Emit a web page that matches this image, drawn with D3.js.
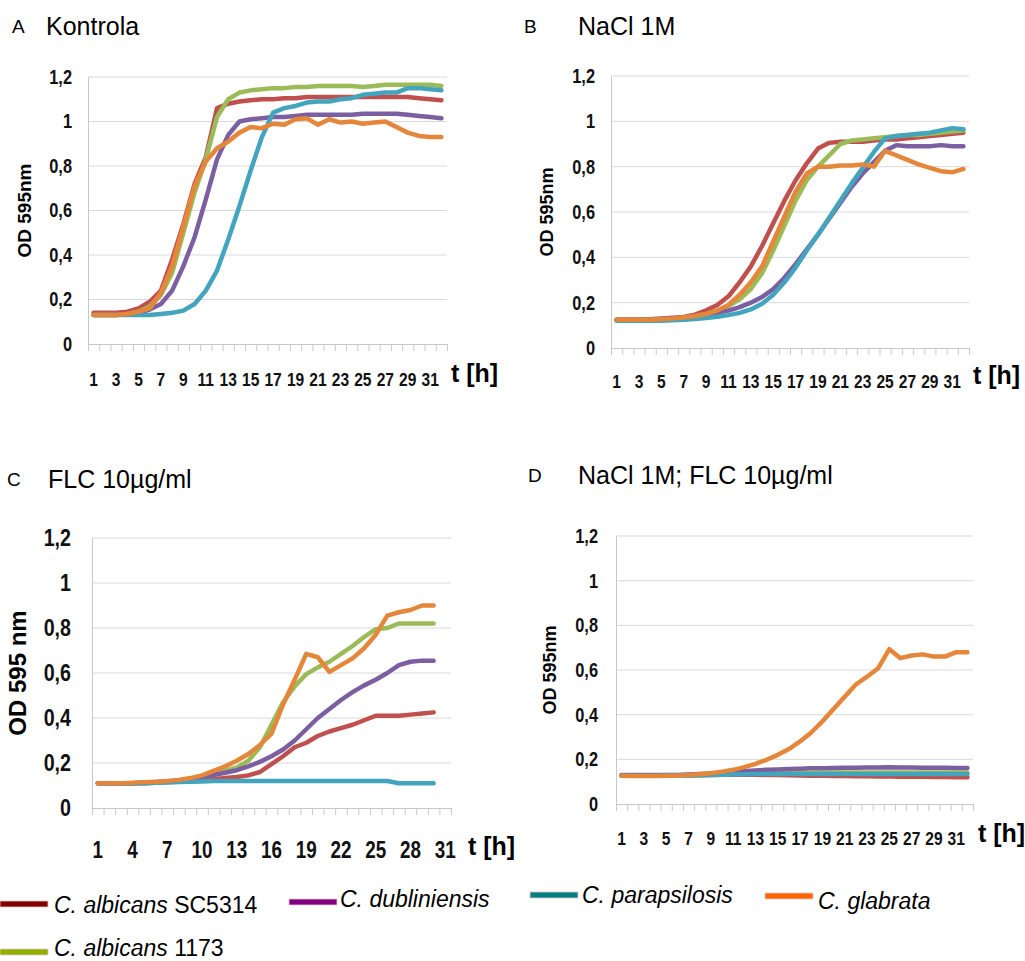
<!DOCTYPE html>
<html>
<head>
<meta charset="utf-8">
<script src="https://cdn.jsdelivr.net/npm/d3@7"></script>
<style>
  body { margin: 0; background: #fff; }
  svg { display: block; }
</style>
</head>
<body>
<div id="chart"></div>
<script>
const width = 1025, height = 961;

/* DATA */
const hours32 = [1,2,3,4,5,6,7,8,9,10,11,12,13,14,15,16,17,18,19,20,21,22,23,24,25,26,27,28,29,30,31,32];
const hours31 = [1,2,3,4,5,6,7,8,9,10,11,12,13,14,15,16,17,18,19,20,21,22,23,24,25,26,27,28,29,30,31];
const labelsAB = [1,3,5,7,9,11,13,15,17,19,21,23,25,27,29,31];
const labelsC = [1,4,7,10,13,16,19,22,25,28,31];
const yTicks = [0, 0.2, 0.4, 0.6, 0.8, 1, 1.2];

const strains = ["SC5314", "1173", "dubliniensis", "parapsilosis", "glabrata"];
const lineColors = ["#c0504d", "#9bbb59", "#7b5fa0", "#43a4bd", "#e4873b"];

// A - Kontrola
const A_sc5314 = [0.14,0.14,0.14,0.145,0.16,0.19,0.24,0.38,0.54,0.72,0.84,1.06,1.08,1.09,1.095,1.10,1.10,1.105,1.105,1.11,1.11,1.11,1.11,1.11,1.11,1.11,1.11,1.11,1.11,1.105,1.10,1.095];
const A_1173 = [0.13,0.13,0.13,0.135,0.145,0.17,0.22,0.32,0.50,0.68,0.83,1.02,1.10,1.13,1.14,1.145,1.15,1.15,1.155,1.155,1.16,1.16,1.16,1.16,1.155,1.16,1.165,1.165,1.165,1.165,1.165,1.16];
const A_dubl = [0.13,0.13,0.13,0.135,0.14,0.155,0.18,0.24,0.35,0.48,0.65,0.83,0.94,1.0,1.01,1.015,1.02,1.02,1.025,1.03,1.03,1.03,1.03,1.03,1.035,1.035,1.035,1.035,1.03,1.025,1.02,1.015];
const A_para = [0.13,0.13,0.13,0.13,0.13,0.13,0.135,0.14,0.15,0.18,0.24,0.33,0.47,0.62,0.78,0.93,1.04,1.06,1.07,1.085,1.09,1.09,1.10,1.105,1.12,1.125,1.13,1.13,1.15,1.15,1.145,1.14];
const A_glab = [0.13,0.13,0.13,0.135,0.145,0.16,0.23,0.35,0.53,0.71,0.82,0.88,0.91,0.95,0.975,0.97,0.99,0.985,1.01,1.015,0.985,1.01,0.995,1.0,0.99,0.995,1.0,0.975,0.95,0.935,0.93,0.93];

// B - NaCl 1M
const B_sc5314 = [0.125,0.125,0.125,0.127,0.13,0.133,0.137,0.147,0.166,0.19,0.228,0.29,0.36,0.45,0.55,0.65,0.74,0.815,0.88,0.905,0.91,0.91,0.91,0.915,0.92,0.92,0.925,0.93,0.935,0.94,0.945,0.95];
const B_1173 = [0.125,0.125,0.125,0.125,0.127,0.13,0.133,0.14,0.15,0.165,0.185,0.215,0.26,0.33,0.43,0.54,0.65,0.74,0.80,0.85,0.90,0.915,0.92,0.925,0.93,0.935,0.94,0.94,0.945,0.95,0.955,0.96];
const B_dubl = [0.125,0.125,0.125,0.125,0.127,0.13,0.133,0.137,0.145,0.155,0.165,0.18,0.20,0.225,0.26,0.31,0.37,0.435,0.50,0.57,0.64,0.71,0.77,0.82,0.87,0.895,0.89,0.89,0.89,0.895,0.89,0.89];
const B_para = [0.12,0.12,0.12,0.12,0.12,0.122,0.125,0.128,0.132,0.138,0.145,0.155,0.17,0.195,0.235,0.29,0.355,0.43,0.50,0.575,0.65,0.725,0.795,0.865,0.925,0.935,0.94,0.945,0.95,0.96,0.97,0.965];
const B_glab = [0.125,0.125,0.125,0.125,0.127,0.13,0.135,0.14,0.15,0.165,0.19,0.235,0.29,0.36,0.47,0.58,0.69,0.77,0.80,0.80,0.805,0.805,0.81,0.80,0.87,0.85,0.83,0.81,0.795,0.78,0.775,0.79];

// C - FLC 10ug/ml (30 measured points)
const C_sc5314 = [0.11,0.11,0.11,0.11,0.11,0.112,0.115,0.117,0.12,0.122,0.128,0.133,0.138,0.145,0.16,0.195,0.23,0.27,0.29,0.32,0.34,0.355,0.37,0.39,0.41,0.41,0.41,0.415,0.42,0.425];
const C_1173 = [0.11,0.11,0.11,0.11,0.112,0.115,0.118,0.122,0.128,0.138,0.15,0.165,0.18,0.21,0.27,0.37,0.47,0.54,0.595,0.625,0.65,0.685,0.72,0.76,0.795,0.80,0.82,0.82,0.82,0.82];
const C_dubl = [0.11,0.11,0.11,0.11,0.112,0.115,0.118,0.122,0.128,0.137,0.147,0.157,0.168,0.185,0.205,0.23,0.26,0.30,0.35,0.40,0.44,0.48,0.515,0.545,0.57,0.60,0.635,0.65,0.655,0.655];
const C_para = [0.11,0.11,0.11,0.11,0.11,0.112,0.113,0.115,0.117,0.118,0.12,0.12,0.12,0.12,0.12,0.12,0.12,0.12,0.12,0.12,0.12,0.12,0.12,0.12,0.12,0.12,0.11,0.11,0.11,0.11];
const C_glab = [0.11,0.11,0.11,0.112,0.115,0.117,0.12,0.125,0.133,0.145,0.165,0.185,0.21,0.24,0.28,0.33,0.46,0.57,0.685,0.67,0.605,0.635,0.665,0.71,0.77,0.855,0.87,0.88,0.90,0.90];

// D - NaCl 1M; FLC 10ug/ml
const D_sc5314 = [0.127,0.126,0.126,0.126,0.126,0.127,0.128,0.129,0.13,0.131,0.131,0.131,0.131,0.13,0.13,0.129,0.128,0.127,0.126,0.125,0.125,0.124,0.124,0.123,0.123,0.122,0.122,0.122,0.121,0.121,0.12,0.12];
const D_1173 = [0.128,0.127,0.127,0.127,0.127,0.128,0.129,0.13,0.132,0.134,0.136,0.137,0.138,0.139,0.14,0.14,0.14,0.14,0.141,0.141,0.141,0.141,0.141,0.141,0.141,0.141,0.141,0.141,0.141,0.141,0.141,0.141];
const D_dubl = [0.13,0.13,0.13,0.13,0.13,0.13,0.132,0.134,0.137,0.14,0.143,0.147,0.15,0.153,0.155,0.157,0.158,0.16,0.16,0.161,0.162,0.162,0.163,0.163,0.164,0.163,0.163,0.162,0.162,0.162,0.161,0.161];
const D_para = [0.127,0.126,0.126,0.126,0.126,0.127,0.128,0.129,0.13,0.131,0.132,0.133,0.134,0.134,0.134,0.134,0.134,0.134,0.134,0.134,0.134,0.134,0.134,0.134,0.134,0.134,0.134,0.134,0.134,0.134,0.134,0.134];
const D_glab = [0.127,0.125,0.125,0.125,0.126,0.127,0.13,0.133,0.138,0.145,0.153,0.165,0.18,0.198,0.22,0.246,0.28,0.32,0.37,0.425,0.48,0.535,0.57,0.608,0.693,0.653,0.665,0.67,0.66,0.66,0.68,0.68];

// legend
const legendItalic = ["C. albicans", "C. dubliniensis", "C. parapsilosis", "C. glabrata", "C. albicans"];
const legendPlain = [" SC5314", "", "", "", " 1173"];
const legendColors = ["#800000", "#800080", "#008080", "#ff6600", "#8fb000"];

/* SVG */
const svg = d3.select("#chart")
  .append("svg")
  .attr("width", width)
  .attr("height", height)

const sans = "'Liberation Sans', Arial, sans-serif"
const squeeze = 0.82 // tick labels are narrow in the original

const panels = [
  { letter: "A", title: "Kontrola", lx: 12, tx: 46, ty: 35, hours: hours32, labels: labelsAB,
    x0: 88, x1: 447, y0: 77, y1: 344, series: [A_sc5314, A_1173, A_dubl, A_para, A_glab],
    yFont: 20, xFont: 19, yLabelX: 72, xLabelY: 386, yTitle: "OD 595nm", yTitleX: 31, yTitleSize: 19,
    tX: 451, tY: 382 },
  { letter: "B", title: "NaCl 1M", lx: 524, tx: 578, ty: 35, hours: hours32, labels: labelsAB,
    x0: 611, x1: 969, y0: 76, y1: 348, series: [B_sc5314, B_1173, B_dubl, B_para, B_glab],
    yFont: 20, xFont: 19, yLabelX: 595, xLabelY: 388, yTitle: "OD 595nm", yTitleX: 553, yTitleSize: 18,
    tX: 973, tY: 384 },
  { letter: "C", title: "FLC 10µg/ml", lx: 7, tx: 48, ty: 488, hours: hours31, labels: labelsC,
    x0: 92, x1: 451, y0: 538, y1: 808, series: [C_sc5314, C_1173, C_dubl, C_para, C_glab],
    yFont: 24, xFont: 23, yLabelX: 71, xLabelY: 858, yTitle: "OD 595 nm", yTitleX: 26, yTitleSize: 24,
    tX: 468, tY: 855 },
  { letter: "D", title: "NaCl 1M; FLC 10µg/ml", lx: 528, tx: 578, ty: 484, hours: hours32, labels: labelsAB,
    x0: 616, x1: 973, y0: 536, y1: 804, series: [D_sc5314, D_1173, D_dubl, D_para, D_glab],
    yFont: 20, xFont: 19, yLabelX: 598, xLabelY: 845, yTitle: "OD 595nm", yTitleX: 556, yTitleSize: 18,
    tX: 978, tY: 842 }
]

panels.forEach(p => {
  const g = svg.append("g")

  // titles
  g.append("text")
    .attr("x", p.lx).attr("y", p.ty - 2)
    .attr("font-family", sans).attr("font-size", 19)
    .text(p.letter)
  g.append("text")
    .attr("x", p.tx).attr("y", p.ty)
    .attr("font-family", sans).attr("font-size", 25)
    .text(p.title)

  /* SCALES */
  const xScale = d3.scaleBand()
    .domain(p.hours)
    .range([p.x0, p.x1])

  const xEdges = d3.scaleLinear()
    .domain([0, p.hours.length])
    .range([p.x0, p.x1])

  const yScale = d3.scaleLinear()
    .domain([0, 1.2])
    .range([p.y1, p.y0])

  // gridlines
  g.append("g")
    .selectAll("line")
    .data(yTicks.filter(d => d > 0))
    .join("line")
    .attr("x1", p.x0).attr("x2", p.x1)
    .attr("y1", d => yScale(d)).attr("y2", d => yScale(d))
    .attr("stroke", "#d9d9d9")
    .attr("stroke-width", 1)

  // y axis
  const pad = p.x0 - p.yLabelX
  const yAxis = d3.axisLeft(yScale)
    .tickValues(yTicks)
    .tickSize(0)
    .tickFormat(d => String(d).replace(".", ","))

  const yAxisGroup = g.append("g")
    .attr("transform", `translate(${p.x0}, 0)`)
    .call(yAxis)
  yAxisGroup.select(".domain").attr("stroke", "#c8c8c8")
  yAxisGroup.selectAll("text")
    .attr("x", -pad / squeeze)
    .attr("transform", `scale(${squeeze}, 1)`)
    .attr("font-family", sans).attr("font-weight", "bold")
    .attr("font-size", p.yFont).attr("fill", "#111")

  // x axis tick marks at category edges
  const edgeAxis = d3.axisBottom(xEdges)
    .tickValues(d3.range(0, p.hours.length + 1))
    .tickSize(7)
    .tickFormat("")
  const edgeGroup = g.append("g")
    .attr("transform", `translate(0, ${p.y1})`)
    .call(edgeAxis)
  edgeGroup.select(".domain").attr("stroke", "#c8c8c8")
  edgeGroup.selectAll(".tick line").attr("stroke", "#c8c8c8")

  // x labels
  const xAxis = d3.axisBottom(xScale)
    .tickValues(p.labels)
    .tickSize(0)
    .tickPadding(0)
  const xAxisGroup = g.append("g")
    .attr("transform", `translate(0, ${p.xLabelY})`)
    .call(xAxis)
  xAxisGroup.select(".domain").remove()
  xAxisGroup.selectAll("text")
    .attr("dy", 0).attr("y", 0)
    .attr("transform", `scale(${squeeze}, 1)`)
    .attr("font-family", sans).attr("font-weight", "bold")
    .attr("font-size", p.xFont).attr("fill", "#111")

  // axis titles
  g.append("text")
    .attr("transform", `translate(${p.yTitleX}, ${(p.y0 + p.y1) / 2}) rotate(-90)`)
    .attr("text-anchor", "middle")
    .attr("font-family", sans).attr("font-weight", "bold")
    .attr("font-size", p.yTitleSize)
    .text(p.yTitle)

  g.append("text")
    .attr("x", p.tX).attr("y", p.tY)
    .attr("font-family", sans).attr("font-weight", "bold")
    .attr("font-size", 25)
    .text("t [h]")

  // lines
  const line = d3.line()
    .x((d, i) => xScale(p.hours[i]) + xScale.bandwidth() / 2)
    .y(d => yScale(d))

  g.append("g")
    .selectAll("path")
    .data(p.series)
    .join("path")
    .attr("d", d => line(d))
    .attr("fill", "none")
    .attr("stroke", (d, i) => lineColors[i])
    .attr("stroke-width", 4.5)
    .attr("stroke-linejoin", "round")
    .attr("stroke-linecap", "round")
})

/* LEGEND */
const legendPos = [
  { x: 0, y: 904, tx: 54, ty: 913 },
  { x: 289, y: 902, tx: 340, ty: 907 },
  { x: 530, y: 895, tx: 582, ty: 903 },
  { x: 765, y: 896, tx: 818, ty: 909 },
  { x: 0, y: 952, tx: 54, ty: 956 }
]

const legend = svg.append("g")
legendColors.forEach((c, i) => {
  const pos = legendPos[i]
  legend.append("rect")
    .attr("x", pos.x).attr("y", pos.y - 3)
    .attr("width", 48).attr("height", 6)
    .attr("fill", c)
    .attr("stroke", "#e8c8c8").attr("stroke-width", 0.8)
  const t = legend.append("text")
    .attr("x", pos.tx).attr("y", pos.ty)
    .attr("font-family", sans).attr("font-size", 23)
  t.append("tspan").attr("font-style", "italic").text(legendItalic[i])
  if (legendPlain[i]) t.append("tspan").text(legendPlain[i])
})
</script>
</body>
</html>
